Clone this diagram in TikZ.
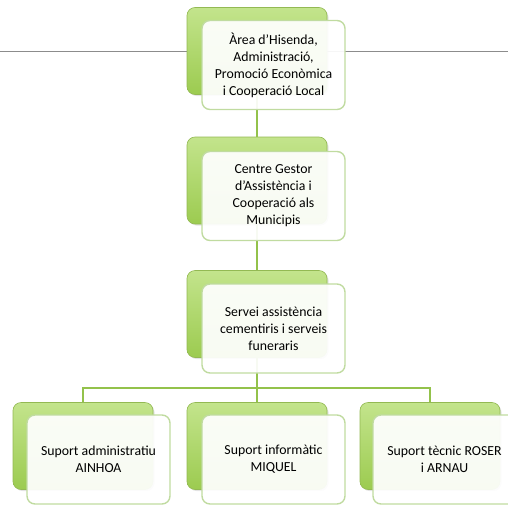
\documentclass[tikz,border=0pt]{standalone}
\usepackage{fontspec}
\setmainfont{Carlito}
\usetikzlibrary{shadows}
\definecolor{backgreen}{HTML}{A3CE5C}
\definecolor{backtop}{HTML}{C3E48C}
\definecolor{backbot}{HTML}{9CCB50}
\definecolor{frontline}{HTML}{C0DBA0}
\definecolor{conn}{HTML}{93C24B}
\tikzset{
  backbox/.style={rounded corners=8pt, minimum width=140pt, minimum height=87pt,
    top color=backtop, bottom color=backbot, draw=backgreen!90!black, line width=0.6pt,
    drop shadow={opacity=0.22, shadow xshift=1.5pt, shadow yshift=-1.5pt}},
  frontbox/.style={rounded corners=8pt, minimum width=143pt, minimum height=89pt,
    fill=white, fill opacity=0.93, text opacity=1, draw=frontline, line width=1.4pt,
    align=flush center, text width=136pt, font=\fontsize{13.8}{17}\selectfont},
  connector/.style={draw=conn, line width=1.8pt},
  rule/.style={draw=gray!90, line width=1pt}
}
\begin{document}
\begin{tikzpicture}[x=1pt,y=-1pt]
\useasboundingbox (0,0) rectangle (508,506);
% gray horizontal rule
\coordinate (gl) at (0,51);
\coordinate (gr) at (508,51);
\draw[rule] (gl) -- (gr);
% back boxes
\node[backbox] (b1) at (257,51) {};
\node[backbox] (b2) at (257,180.5) {};
\node[backbox] (b3) at (257,314) {};
\node[backbox] (b4) at (83,446) {};
\node[backbox] (b5) at (257,446) {};
\node[backbox] (b6) at (430,446) {};
% connectors
\coordinate (j) at (257,388);
\draw[connector] (b1.south) -- (b2.north);
\draw[connector] (b2.south) -- (b3.north);
\draw[connector] (b3.south) -- (j);
\draw[connector] (b4.north) |- (j) -| (b6.north);
\draw[connector] (j) -- (b5.north);
% front boxes
\node[frontbox] (f1) at (273.5,65) {Àrea d’Hisenda,\\Administració,\\Promoció Econòmica\\i Cooperació Local};
\node[frontbox] (f2) at (273.5,196) {Centre Gestor\\d’Assistència i\\Cooperació als\\Municipis};
\node[frontbox] (f3) at (273.5,328.5) {Servei assistència\\cementiris i serveis\\funeraris};
\node[frontbox] (f4) at (98.5,459.5) {Suport administratiu\\AINHOA};
\node[frontbox] (f5) at (273.5,459.5) {Suport informàtic\\MIQUEL};
\node[frontbox] (f6) at (444.5,459.5) {Suport tècnic ROSER\\i ARNAU};
\end{tikzpicture}
\end{document}
